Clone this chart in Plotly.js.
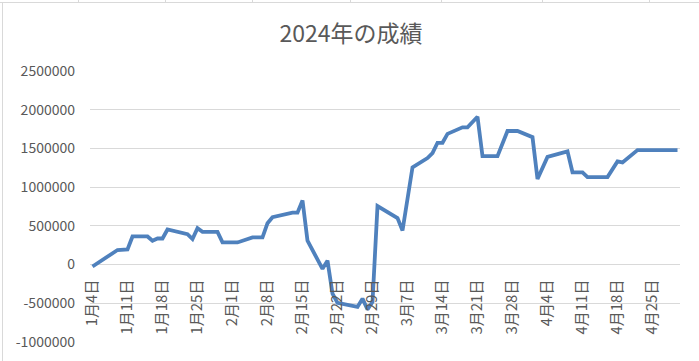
<!DOCTYPE html>
<html>
<head>
<meta charset="utf-8">
<script src="https://cdn.plot.ly/plotly-3.0.1.min.js"></script>
<style>
  html, body { margin: 0; padding: 0; background: #ffffff; }
  #wrap { position: relative; width: 699px; height: 361px; overflow: hidden; }
  #chart { position: absolute; left: 0; top: 0; width: 699px; height: 361px; }
  .deco { position: absolute; background: #d9d9d9; pointer-events: none; }
</style>
</head>
<body>
<div id="wrap">
  <div id="chart"></div>
  <div class="deco" style="left:0;top:2px;width:699px;height:1px;"></div>
  <div class="deco" style="left:2px;top:2px;width:1px;height:359px;"></div>
  <div class="deco" style="left:78px;top:0;width:1px;height:2px;"></div>
  <div class="deco" style="left:165px;top:0;width:1px;height:2px;"></div>
  <div class="deco" style="left:252px;top:0;width:1px;height:2px;"></div>
  <div class="deco" style="left:350px;top:0;width:1px;height:2px;"></div>
  <div class="deco" style="left:441px;top:0;width:1px;height:2px;"></div>
  <div class="deco" style="left:542px;top:0;width:1px;height:2px;"></div>
  <div class="deco" style="left:649px;top:0;width:1px;height:2px;"></div>
</div>
<script>
// ---- data ----
const titleText = "2024年の成績";

const dates = [
  "2024-01-04", "2024-01-09", "2024-01-11", "2024-01-12", "2024-01-15",
  "2024-01-16", "2024-01-17", "2024-01-18", "2024-01-19", "2024-01-23",
  "2024-01-24", "2024-01-25", "2024-01-26", "2024-01-29", "2024-01-30",
  "2024-02-02", "2024-02-05", "2024-02-07", "2024-02-08", "2024-02-09",
  "2024-02-13", "2024-02-14", "2024-02-15", "2024-02-16", "2024-02-19",
  "2024-02-20", "2024-02-21", "2024-02-22", "2024-02-26", "2024-02-27",
  "2024-02-28", "2024-02-29", "2024-03-01", "2024-03-04", "2024-03-05",
  "2024-03-06", "2024-03-08", "2024-03-11", "2024-03-12", "2024-03-13",
  "2024-03-14", "2024-03-15", "2024-03-18", "2024-03-19", "2024-03-21",
  "2024-03-22", "2024-03-25", "2024-03-27", "2024-03-29", "2024-04-01",
  "2024-04-02", "2024-04-04", "2024-04-08", "2024-04-09", "2024-04-11",
  "2024-04-12", "2024-04-16", "2024-04-18", "2024-04-19", "2024-04-22",
  "2024-04-30"
];

const values = [
  -25000, 188000, 196000, 363000, 363000,
  308000, 337000, 337000, 453000, 393000,
  329000, 470000, 423000, 423000, 286000,
  286000, 350000, 350000, 534000, 612000,
  670000, 670000, 829000, 308000, -55000,
  51000, -376000, -495000, -547000, -440000,
  -580000, -483000, 756000, 636000, 600000,
  440000, 1256000, 1376000, 1440000, 1573000,
  1573000, 1688000, 1773000, 1773000, 1910000,
  1400000, 1400000, 1725000, 1725000, 1645000,
  1105000, 1390000, 1462000, 1192000, 1192000,
  1130000, 1130000, 1333000, 1320000, 1478000,
  1478000
];

const xTickDates = [
  "2024-01-04", "2024-01-11", "2024-01-18", "2024-01-25", "2024-02-01",
  "2024-02-08", "2024-02-15", "2024-02-22", "2024-02-29", "2024-03-07",
  "2024-03-14", "2024-03-21", "2024-03-28", "2024-04-04", "2024-04-11",
  "2024-04-18", "2024-04-25"
];
const xTickLabels = [
  "1月4日", "1月11日", "1月18日", "1月25日", "2月1日",
  "2月8日", "2月15日", "2月22日", "2月29日", "3月7日",
  "3月14日", "3月21日", "3月28日", "4月4日", "4月11日",
  "4月18日", "4月25日"
];

const yTickVals = [-1000000, -500000, 0, 500000, 1000000, 1500000, 2000000, 2500000];
const yTickLabels = ["-1000000", "-500000", "0", "500000", "1000000", "1500000", "2000000", "2500000"];

const yMin = -1000000, yMax = 2500000;

// ---- chart ----
const FONT = '"Noto Sans CJK JP", "Noto Sans", sans-serif';
const GRID = '#d9d9d9';
const TXT = '#595959';

const trace = {
  x: dates,
  y: values,
  type: 'scatter',
  mode: 'lines',
  line: { color: '#4f81bd', width: 3.8, shape: 'linear' },
  hoverinfo: 'skip'
};

const layout = {
  width: 699,
  height: 361,
  margin: { l: 90, r: 19, t: 71, b: 19, pad: 0 },
  paper_bgcolor: 'rgba(0,0,0,0)',
  plot_bgcolor: 'rgba(0,0,0,0)',
  showlegend: false,
  font: { family: FONT, color: TXT, size: 14 },
  title: {
    text: titleText,
    font: { family: FONT, size: 23, color: TXT },
    x: 351 / 699, xref: 'container', xanchor: 'center',
    y: 1 - 34 / 361, yref: 'container', yanchor: 'middle'
  },
  xaxis: {
    type: 'date',
    range: ['2024-01-03 12:00', '2024-04-30 12:00'],
    tickvals: xTickDates,
    ticktext: xTickLabels,
    tickangle: -90,
    tickfont: { family: FONT, size: 15, color: TXT },
    showgrid: false,
    zeroline: false,
    showline: false,
    ticks: '',
    anchor: 'free',
    position: (0 - yMin) / (yMax - yMin),
    ticklabelstandoff: 11,
    automargin: false,
    fixedrange: true
  },
  yaxis: {
    range: [yMin, yMax],
    tickvals: yTickVals,
    ticktext: yTickLabels,
    tickfont: { family: FONT, size: 14, color: TXT },
    showgrid: true,
    gridcolor: GRID,
    gridwidth: 1,
    zeroline: true,
    zerolinecolor: GRID,
    zerolinewidth: 1,
    showline: false,
    ticks: '',
    ticklabelstandoff: 14,
    automargin: false,
    fixedrange: true
  }
};

Plotly.newPlot('chart', [trace], layout, { displayModeBar: false, staticPlot: true });
</script>
</body>
</html>
